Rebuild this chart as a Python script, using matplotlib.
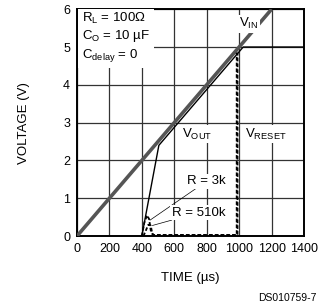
import matplotlib
matplotlib.use('Agg')
import matplotlib.pyplot as plt

fonte = 'Liberation Sans'
plt.rcParams['font.family'] = [fonte, 'DejaVu Sans']
plt.rcParams['mathtext.fontset'] = 'custom'
plt.rcParams['mathtext.rm'] = fonte
plt.rcParams['mathtext.it'] = fonte + ':italic'

# dados
vin_t = [0, 1200]
vin_v = [0, 6]

vout_t = [400, 505, 1025, 1400]
vout_v = [0, 2.4, 5.0, 5.0]

r3k_t = [400, 415, 432, 445, 455, 470, 600, 985, 985]
r3k_v = [0, 0.35, 0.55, 0.45, 0.15, 0.03, 0.03, 0.03, 4.85]

r510k_t = [410, 440, 455, 465, 480, 600, 990, 990]
r510k_v = [0, 0.30, 0.28, 0.05, 0.02, 0.02, 0.02, 4.85]

xticks = [0, 200, 400, 600, 800, 1000, 1200, 1400]
yticks = [0, 1, 2, 3, 4, 5, 6]

fig = plt.figure(figsize=(3.18, 3.07), dpi=100)
ax = fig.add_axes([0.242, 0.231, 0.714, 0.739])

ax.set_xlim(0, 1400)
ax.set_ylim(0, 6)
ax.set_xticks(xticks)
ax.set_yticks(yticks)
ax.tick_params(length=0, labelsize=9, pad=5)
ax.grid(True, color='#333333', linewidth=0.9)
ax.set_axisbelow(True)
for s in ax.spines.values():
    s.set_linewidth(1.4)

ax.plot(vin_t, vin_v, color='#555555', linewidth=2.6, solid_capstyle='butt', zorder=3)
ax.plot(vout_t, vout_v, color='black', linewidth=1.0, zorder=4)
ax.plot(r3k_t, r3k_v, color='black', linewidth=1.3, linestyle=(0, (2, 1.2)), zorder=4)
ax.plot(r510k_t, r510k_v, color='black', linewidth=1.3, linestyle=(0, (2, 1.2)), zorder=4)

caixa = dict(facecolor='white', edgecolor='none', pad=1)
ax.text(30, 5.95, '$\\mathregular{R_L}$ = 100Ω\n$\\mathregular{C_O}$ = 10 µF\n$\\mathregular{C_{delay}}$ = 0',
        fontsize=9.5, va='top', ha='left', linespacing=1.2,
        bbox=dict(facecolor='white', edgecolor='none', pad=3), zorder=5)
ax.text(1060, 5.62, '$\\mathregular{V_{IN}}$', fontsize=9.5, ha='center', va='center', bbox=caixa, zorder=5)
ax.text(740, 2.7, '$\\mathregular{V_{OUT}}$', fontsize=9.5, ha='center', va='center', bbox=caixa, zorder=5)
ax.text(1165, 2.7, '$\\mathregular{V_{RESET}}$', fontsize=9.5, ha='center', va='center', bbox=caixa, zorder=5)

ax.annotate('R = 3k', xy=(450, 0.42), xytext=(680, 1.45), fontsize=9.5, ha='left', va='center',
            arrowprops=dict(arrowstyle='-', color='black', linewidth=0.5, shrinkA=0, shrinkB=0),
            bbox=caixa, zorder=5)
ax.annotate('R = 510k', xy=(465, 0.28), xytext=(585, 0.62), fontsize=9.5, ha='left', va='center',
            arrowprops=dict(arrowstyle='-', color='black', linewidth=0.5, shrinkA=0, shrinkB=0),
            bbox=caixa, zorder=5)

ax.set_xlabel('TIME (µs)', fontsize=9.5, labelpad=12)
ax.set_ylabel('VOLTAGE (V)', fontsize=9.5, labelpad=24)

fig.text(0.995, 0.028, 'DS010759-7', fontsize=7.5, ha='right', va='center')

fig.savefig('out.png', dpi=100)
